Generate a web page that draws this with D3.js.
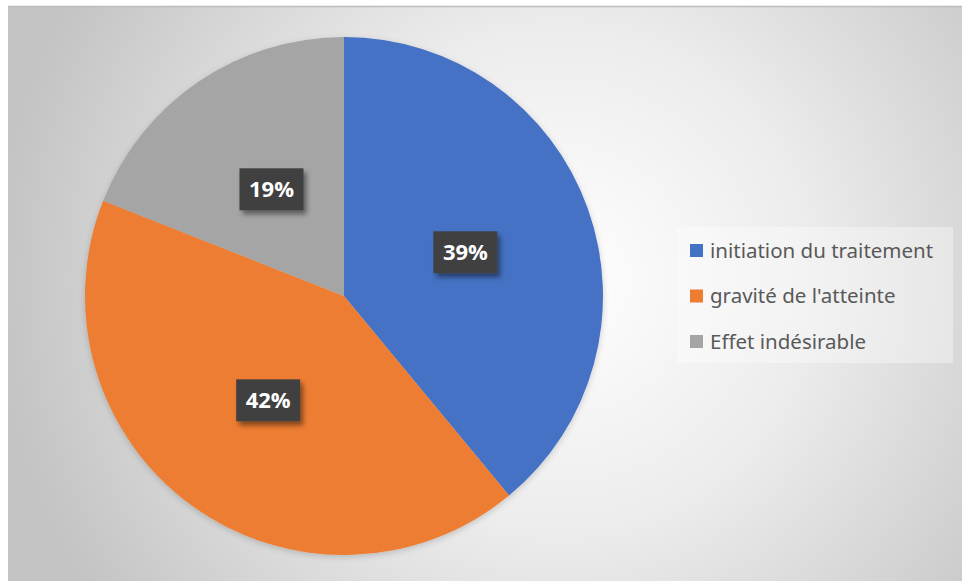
<!DOCTYPE html>
<html>
<head>
<meta charset="utf-8">
<script src="https://cdn.jsdelivr.net/npm/d3@7"></script>
<style>
  html, body { margin: 0; padding: 0; background: #ffffff; }
  svg { display: block; }
</style>
</head>
<body>
<svg id="chart" width="962" height="581"></svg>
<script>
// Répartition des motifs
const categories = ["initiation du traitement", "gravité de l'atteinte", "Effet indésirable"];
const values = [39, 42, 19];
const colors = ["#4472c4", "#ed7d31", "#a5a5a5"];

const W = 962, H = 581;
const svg = d3.select("#chart");
const defs = svg.append("defs");

// radial background of the chart area
const bg = defs.append("radialGradient")
  .attr("id", "bgGrad")
  .attr("gradientUnits", "userSpaceOnUse")
  .attr("cx", 560).attr("cy", 280).attr("r", 560);
bg.append("stop").attr("offset", "0%").attr("stop-color", "#ffffff");
bg.append("stop").attr("offset", "45%").attr("stop-color", "#ececec");
bg.append("stop").attr("offset", "100%").attr("stop-color", "#c4c4c4");

const shadow = defs.append("filter").attr("id", "boxShadow")
  .attr("x", "-30%").attr("y", "-30%").attr("width", "170%").attr("height", "170%");
shadow.append("feDropShadow")
  .attr("dx", 3).attr("dy", 4).attr("stdDeviation", 2.5)
  .attr("flood-color", "#000").attr("flood-opacity", 0.45);

const pieShadow = defs.append("filter").attr("id", "pieShadow")
  .attr("x", "-20%").attr("y", "-20%").attr("width", "140%").attr("height", "140%");
pieShadow.append("feDropShadow")
  .attr("dx", 0).attr("dy", 2).attr("stdDeviation", 3)
  .attr("flood-color", "#000").attr("flood-opacity", 0.18);

// chart area
svg.append("rect")
  .attr("x", 8).attr("y", 6).attr("width", W - 8).attr("height", H - 6)
  .attr("fill", "url(#bgGrad)");
svg.append("line")
  .attr("x1", 8).attr("x2", W).attr("y1", 6.5).attr("y2", 6.5)
  .attr("stroke", "#bdbdbd").attr("stroke-width", 1.5);

// pie
const cx = 344, cy = 296, radius = 259;
const pie = d3.pie().sort(null).value(d => d.value);
const arcs = pie(categories.map((c, i) => ({ name: c, value: values[i], color: colors[i] })));
const arc = d3.arc().innerRadius(0).outerRadius(radius);
const labelArc = d3.arc().innerRadius(129).outerRadius(129);

const g = svg.append("g").attr("transform", `translate(${cx},${cy})`);
g.append("g").attr("filter", "url(#pieShadow)")
  .selectAll("path").data(arcs).join("path")
  .attr("d", arc)
  .attr("fill", d => d.data.color);

// data labels
const lab = g.selectAll("g.lab").data(arcs).join("g")
  .attr("class", "lab")
  .attr("transform", d => `translate(${labelArc.centroid(d)})`);
lab.append("rect")
  .attr("x", -32).attr("y", -21).attr("width", 64).attr("height", 42)
  .attr("fill", "#404040")
  .attr("filter", "url(#boxShadow)");
lab.append("text")
  .attr("text-anchor", "middle")
  .attr("dy", "0.36em")
  .attr("fill", "#ffffff")
  .attr("font-family", "'Open Sans', 'Noto Sans', sans-serif")
  .attr("font-weight", 700)
  .attr("font-size", 22)
  .text(d => d.data.value + "%");

// legend
const legend = svg.append("g");
legend.append("rect")
  .attr("x", 677).attr("y", 227).attr("width", 276).attr("height", 136)
  .attr("fill", "#ffffff").attr("fill-opacity", 0.35);
const rowY = d3.scalePoint().domain(categories).range([250.5, 341.5]);
const item = legend.selectAll("g.item").data(categories).join("g")
  .attr("class", "item")
  .attr("transform", d => `translate(690,${rowY(d)})`);
item.append("rect")
  .attr("x", 0).attr("y", -6.5).attr("width", 13).attr("height", 13)
  .attr("fill", (d, i) => colors[i]);
item.append("text")
  .attr("x", 20).attr("dy", "0.35em")
  .attr("fill", "#595959")
  .attr("font-family", "'Noto Sans', 'Open Sans', sans-serif")
  .attr("font-size", 20.5)
  .text(d => d);
</script>
</body>
</html>
